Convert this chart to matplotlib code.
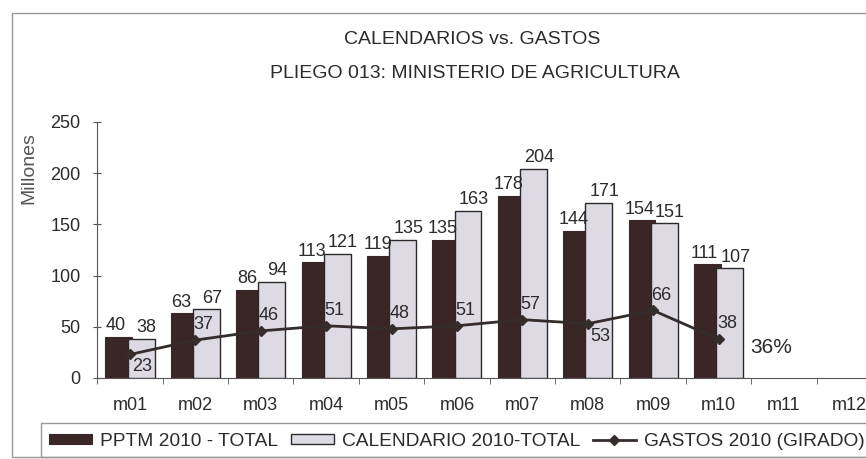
import matplotlib
matplotlib.use("Agg")
import matplotlib.pyplot as plt
import numpy as np
from matplotlib.patches import Rectangle

plt.rcParams['font.family'] = ['Liberation Sans', 'DejaVu Sans']

meses = ['m01', 'm02', 'm03', 'm04', 'm05', 'm06', 'm07', 'm08', 'm09', 'm10', 'm11', 'm12']
pptm = [40, 63, 86, 113, 119, 135, 178, 144, 154, 111]
calendario = [38, 67, 94, 121, 135, 163, 204, 171, 151, 107]
gastos = [23, 37, 46, 51, 48, 51, 57, 53, 66, 38]
debajo = [True, False, False, False, False, False, False, True, False, False]

oscuro = '#3a2626'
claro = '#dedae3'
texto = '#2b2b2b'

W, H = 866, 459
fig = plt.figure(figsize=(W / 100, H / 100), dpi=100)

# marco exterior y caja de leyenda (como en el grafico escaneado)
fig.add_artist(Rectangle((12 / W, 1 - 457 / H), 1, (457 - 13) / H, transform=fig.transFigure,
                         fill=False, edgecolor='#999999', lw=1))
fig.add_artist(Rectangle((41 / W, 1 - 457 / H), 1, (457 - 423) / H, transform=fig.transFigure,
                         fill=False, edgecolor='#999999', lw=1))

ax = fig.add_axes((97.3 / W, 1 - 378 / H, 784.7 / W, 256 / H))

x = np.arange(len(pptm))
w = 0.41
b1 = ax.bar(x - 0.17, pptm, w, color=oscuro, edgecolor=oscuro, lw=0.8, label='PPTM 2010 - TOTAL', zorder=2)
b2 = ax.bar(x + 0.17, calendario, w, color=claro, edgecolor='#2a2a2a', lw=1, label='CALENDARIO 2010-TOTAL', zorder=3)
ln, = ax.plot(x, gastos, color='#352c2c', lw=2, marker='D', ms=5.5, label='GASTOS 2010 (GIRADO)', zorder=4)

# etiquetas de las barras
for xi, v in zip(x - 0.17, pptm):
    ax.annotate(str(v), (xi, v), xytext=(-2, 2), textcoords='offset points',
                ha='center', va='bottom', fontsize=13, color=texto)
for xi, v in zip(x + 0.17, calendario):
    ax.annotate(str(v), (xi, v), xytext=(4, 2), textcoords='offset points',
                ha='center', va='bottom', fontsize=13, color=texto)
for xi, g, d in zip(x, gastos, debajo):
    off = (9, -9) if d else (6, 11)
    ax.annotate(str(g), (xi, g), xytext=off, textcoords='offset points',
                ha='center', va='center', fontsize=13, color=texto, zorder=5)

ax.text(9.8, 30, '36%', fontsize=15, color=texto, ha='center', va='center')

ax.set_xlim(-0.5, 11.5)
ax.set_ylim(0, 250)
ax.set_yticks([0, 50, 100, 150, 200, 250])
ax.set_xticks(np.arange(12))
ax.set_xticklabels(meses)
ax.set_xticks(np.arange(-0.5, 12, 1), minor=True)
ax.tick_params(axis='x', which='major', length=0, pad=14, labelsize=13, labelcolor=texto)
ax.tick_params(axis='x', which='minor', length=4, direction='out', color='#555555')
ax.tick_params(axis='y', length=6, direction='inout', pad=9, labelsize=13, labelcolor=texto, color='#555555')
for s in ['top', 'right']:
    ax.spines[s].set_visible(False)
for s in ['left', 'bottom']:
    ax.spines[s].set_color('#555555')

ax.set_ylabel('Millones', fontsize=14, color='#555555')
ax.yaxis.set_label_coords(-0.076, 0.82)

fig.text(472 / W, 1 - 40 / H, 'CALENDARIOS vs. GASTOS', ha='center', va='center', fontsize=14, color=texto)
fig.text(475 / W, 1 - 73 / H, 'PLIEGO 013: MINISTERIO DE AGRICULTURA', ha='center', va='center', fontsize=14, color=texto)

fig.legend(handles=[b1, b2, ln], loc='center left', bbox_to_anchor=(49 / W, 1 - 441 / H),
           ncol=3, frameon=False, fontsize=13.8, handlelength=2.25, handleheight=0.45,
           handletextpad=0.42, columnspacing=0.65, borderpad=0, borderaxespad=0, labelcolor=texto)

fig.savefig('out.png', dpi=100)
